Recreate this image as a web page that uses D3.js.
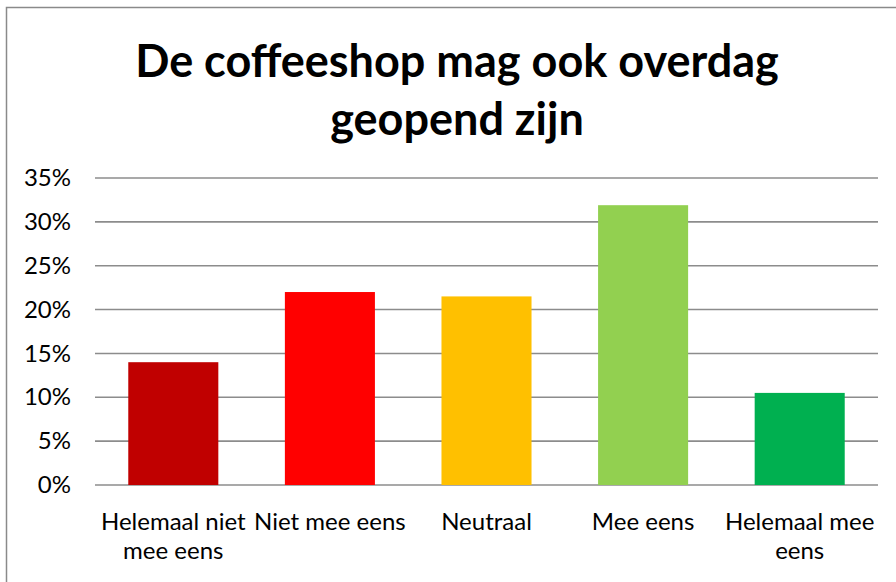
<!DOCTYPE html>
<html lang="nl">
<head>
    <meta charset="UTF-8">
    <title>De coffeeshop mag ook overdag geopend zijn</title>
    <script src="https://cdnjs.cloudflare.com/ajax/libs/d3/7.8.5/d3.min.js"></script>
    <style>
        body { margin: 0; padding: 0; background: #fff; }
        svg { display: block; font-family: Lato, "Open Sans", sans-serif; }
    </style>
</head>
<body>
    <svg id="chart" width="896" height="582"></svg>
    <script>
        // data
        const categories = ["Helemaal niet mee eens", "Niet mee eens", "Neutraal", "Mee eens", "Helemaal mee eens"];
        const labelLines = [["Helemaal niet", "mee eens"], ["Niet mee eens"], ["Neutraal"], ["Mee eens"], ["Helemaal mee", "eens"]];
        const values = [0.140, 0.220, 0.215, 0.319, 0.105];
        const colors = ["#C00000", "#FF0000", "#FFC000", "#92D050", "#00B050"];
        const yTicks = [0, 0.05, 0.10, 0.15, 0.20, 0.25, 0.30, 0.35];
        const titleLines = ["De coffeeshop mag ook overdag", "geopend zijn"];

        const svg = d3.select("#chart");

        // outer chart border
        svg.append("rect")
            .attr("x", 6.5).attr("y", 7.5)
            .attr("width", 900).attr("height", 590)
            .attr("fill", "none")
            .attr("stroke", "#8a8a8a")
            .attr("stroke-width", 1.5);

        const margin = { left: 95, right: 878, top: 178, bottom: 485 };

        const x = d3.scaleBand()
            .domain(categories)
            .range([margin.left, margin.right])
            .paddingInner(0.425)
            .paddingOuter(0.2125);

        const y = d3.scaleLinear()
            .domain([0, 0.35])
            .range([margin.bottom, margin.top]);

        // gridlines
        svg.append("g")
            .selectAll("line")
            .data(yTicks)
            .join("line")
            .attr("x1", margin.left).attr("x2", margin.right)
            .attr("y1", d => y(d)).attr("y2", d => y(d))
            .attr("stroke", "#8c8c8c")
            .attr("stroke-width", 1.6);

        // y axis labels
        const yAxis = d3.axisLeft(y)
            .tickValues(yTicks)
            .tickFormat(d3.format(".0%"))
            .tickSize(0)
            .tickPadding(0);

        svg.append("g")
            .attr("transform", `translate(71,0)`)
            .call(yAxis)
            .call(g => g.select(".domain").remove())
            .selectAll("text")
            .attr("font-family", "Lato, 'Open Sans', sans-serif")
            .attr("font-size", 24)
            .attr("fill", "#000");

        // bars
        svg.append("g")
            .selectAll("rect")
            .data(values)
            .join("rect")
            .attr("x", (d, i) => x(categories[i]))
            .attr("y", d => y(d))
            .attr("width", x.bandwidth())
            .attr("height", d => y(0) - y(d))
            .attr("fill", (d, i) => colors[i]);

        // x axis labels
        const xl = svg.append("g")
            .selectAll("text")
            .data(categories)
            .join("text")
            .attr("x", d => x(d) + x.bandwidth() / 2)
            .attr("y", 530)
            .attr("text-anchor", "middle")
            .attr("font-size", 24)
            .attr("fill", "#000");

        xl.each(function(d, i) {
            d3.select(this).selectAll("tspan")
                .data(labelLines[i])
                .join("tspan")
                .attr("x", x(d) + x.bandwidth() / 2)
                .attr("dy", (t, j) => j === 0 ? 0 : 29)
                .text(t => t);
        });

        // title
        svg.append("text")
            .attr("text-anchor", "middle")
            .attr("font-size", 45)
            .attr("font-weight", "bold")
            .attr("fill", "#000")
            .selectAll("tspan")
            .data(titleLines)
            .join("tspan")
            .attr("x", 457)
            .attr("y", (d, i) => 77 + i * 58)
            .text(d => d);
    </script>
</body>
</html>
